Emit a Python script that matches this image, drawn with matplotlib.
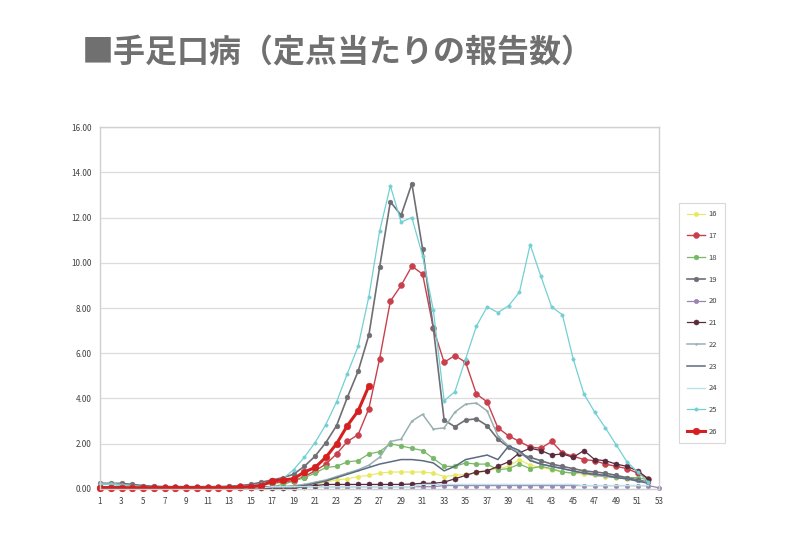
import numpy as np
import matplotlib.pyplot as plt

plt.rcParams['font.family'] = ['Noto Sans CJK JP', 'DejaVu Sans']

weeks = np.arange(1, 54)
nan = np.nan

# 定点当たり報告数 (H16-H26)
s16 = [0.05]*16 + [0.05, 0.08, 0.1, 0.15, 0.2, 0.3, 0.4, 0.45, 0.55, 0.6, 0.7, 0.75, 0.75, 0.75,
                   0.75, 0.7, 0.55, 0.6, 0.65, 0.7, 0.8, 0.9, 1.0, 1.3, 1.05, 0.95, 0.85, 0.75,
                   0.7, 0.65, 0.6, 0.55, 0.5, 0.45, 0.4, 0.3, nan]
s17 = [0.1, 0.1, 0.1, 0.08, 0.08, 0.08, 0.07, 0.07, 0.07, 0.07, 0.08, 0.08, 0.1, 0.12, 0.15, 0.2,
       0.25, 0.3, 0.35, 0.55, 0.8, 1.1, 1.55, 2.1, 2.4, 3.55, 5.75, 8.3, 9.0, 9.85, 9.5, 7.1,
       5.6, 5.9, 5.6, 4.2, 3.85, 2.7, 2.35, 2.1, 1.85, 1.8, 2.1, 1.6, 1.45, 1.3, 1.25, 1.1,
       1.0, 0.9, 0.7, 0.45, nan]
s18 = [0.05]*16 + [0.1, 0.2, 0.35, 0.5, 0.7, 0.95, 1.0, 1.2, 1.25, 1.55, 1.65, 2.0, 1.9, 1.8,
                   1.7, 1.35, 1.0, 1.0, 1.15, 1.1, 1.1, 0.85, 0.9, 1.1, 0.9, 1.0, 0.9, 0.75,
                   0.7, 0.75, 0.65, 0.6, 0.55, 0.5, 0.5, 0.4, nan]
s19 = [0.25, 0.25, 0.25, 0.2, 0.15, 0.12, 0.1, 0.1, 0.1, 0.1, 0.1, 0.1, 0.12, 0.15, 0.2, 0.3,
       0.4, 0.5, 0.65, 1.0, 1.45, 2.05, 2.8, 4.05, 5.2, 6.8, 9.8, 12.7, 12.1, 13.5, 10.6, 7.1,
       3.05, 2.75, 3.05, 3.1, 2.8, 2.2, 1.85, 1.55, 1.4, 1.25, 1.1, 1.0, 0.9, 0.8, 0.75, 0.7,
       0.6, 0.5, 0.4, 0.3, nan]
s20 = [0.05]*18 + [0.1]*14 + [0.15]*20 + [0.05]
s21 = [0.03]*19 + [0.1, 0.15, 0.2, 0.2, 0.2, 0.2, 0.2, 0.2, 0.2, 0.2, 0.22, 0.25, 0.25, 0.3,
                   0.45, 0.6, 0.75, 0.8, 1.0, 1.2, 1.6, 1.8, 1.7, 1.5, 1.55, 1.4, 1.7, 1.3,
                   1.25, 1.1, 1.0, 0.8, 0.45, nan]
s22 = [0.25, 0.25, 0.2, 0.15] + [0.1]*14 + [0.15, 0.2, 0.3, 0.4, 0.55, 0.7, 0.85, 1.05, 1.4,
                                            2.1, 2.2, 3.0, 3.3, 2.65, 2.7, 3.4, 3.75, 3.8, 3.45,
                                            2.35, 1.9, 1.6, 1.3, 1.1, 1.0, 0.9, 0.8, 0.7, 0.6,
                                            0.55, 0.5, 0.45, 0.35, 0.3, nan]
s23 = [0.1]*19 + [0.15, 0.25, 0.35, 0.5, 0.65, 0.8, 0.95, 1.1, 1.2, 1.3, 1.3, 1.25, 1.15, 0.8,
                  1.0, 1.3, 1.4, 1.5, 1.3, 1.9, 1.7, 1.25, 1.1, 1.0, 0.9, 0.8, 0.7, 0.65, 0.6,
                  0.5, 0.45, 0.35, 0.25, nan]
s24 = [0.05]*16 + [0.1]*14 + [0.2]*15 + [0.15]*7 + [nan]
s25 = [0.2, 0.2, 0.15, 0.1, 0.08, 0.07, 0.06, 0.06, 0.06, 0.06, 0.07, 0.08, 0.1, 0.12, 0.15, 0.2,
       0.3, 0.45, 0.85, 1.4, 2.05, 2.85, 3.85, 5.1, 6.3, 8.5, 11.4, 13.4, 11.8, 12.0, 10.3, 7.9,
       3.9, 4.3, 5.75, 7.2, 8.05, 7.8, 8.1, 8.7, 10.8, 9.4, 8.05, 7.7, 5.75, 4.2, 3.4, 2.7,
       1.95, 1.2, 0.75, 0.3, nan]
s26 = [0.05, 0.05, 0.05, 0.05, 0.05, 0.05, 0.05, 0.05, 0.05, 0.05, 0.05, 0.05, 0.06, 0.08, 0.1,
       0.15, 0.35, 0.4, 0.45, 0.75, 0.95, 1.4, 2.0, 2.8, 3.45, 4.55] + [nan]*27

labels = ['16', '17', '18', '19', '20', '21', '22', '23', '24', '25', '26']
series = [s16, s17, s18, s19, s20, s21, s22, s23, s24, s25, s26]

# colour, marker, marker size, line width
styles = [
    ('#e8e860', 'o', 3.0, 0.8),
    ('#c8404c', 'o', 4.2, 1.0),
    ('#78b868', 'o', 3.4, 0.9),
    ('#6e6e74', 'o', 3.4, 1.2),
    ('#9a84b4', 'o', 3.2, 0.9),
    ('#5a2a3c', 'o', 3.6, 0.9),
    ('#98b0b0', '.', 2.5, 1.1),
    ('#5c6a82', '', 0, 1.1),
    ('#b8e4e8', '', 0, 1.0),
    ('#72d0d4', 'o', 2.4, 0.9),
    ('#d42020', 'o', 4.8, 2.2),
]

fig = plt.figure(figsize=(8, 5.33), dpi=100)
fig.text(0.102, 0.902, '■手足口病（定点当たりの報告数）', fontsize=23, fontweight='bold',
         color='#707070', va='center', ha='left')

ax = fig.add_axes([0.125, 0.0826, 0.699, 0.679])
for lab, vals, (col, mk, ms, lw) in zip(labels, series, styles):
    ax.plot(weeks, vals, color=col, marker=mk, markersize=ms, linewidth=lw,
            markeredgewidth=0.4, markeredgecolor=col, label=lab, clip_on=False)

ax.set_xlim(1, 53)
ax.set_ylim(0, 16)
ax.set_xticks(np.arange(1, 54, 2))
ax.set_yticks(np.arange(0, 17, 2))
ax.set_yticklabels([f'{v:.2f}' for v in np.arange(0, 17, 2)])
ax.tick_params(labelsize=5.8, colors='#404040', length=0, pad=6)
ax.grid(axis='y', color='#dcdcdc', linewidth=0.9)
ax.set_axisbelow(True)
for sp in ax.spines.values():
    sp.set_color('#d0d0d0')
    sp.set_linewidth(1.0)

leg = fig.legend(loc='upper left', bbox_to_anchor=(0.844, 0.627), fontsize=5.5,
                 labelspacing=1.8, handlelength=2.4, handletextpad=0.5,
                 borderpad=1.0, frameon=True, fancybox=False)
leg.get_frame().set_edgecolor('#d0d0d0')
leg.get_frame().set_linewidth(0.8)
for t in leg.get_texts():
    t.set_color('#404040')

fig.savefig('out.png', dpi=100)
